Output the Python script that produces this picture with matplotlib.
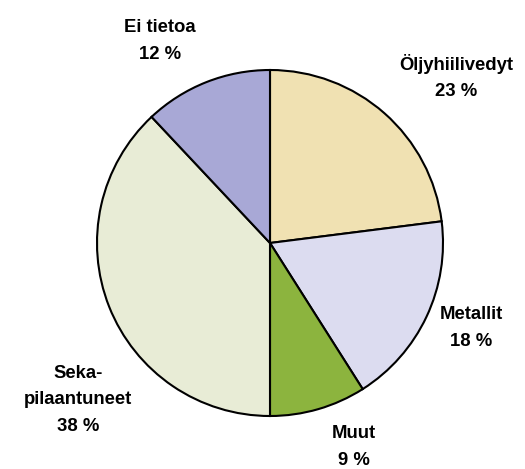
import matplotlib
matplotlib.use("Agg")
import matplotlib.pyplot as plt

categories = ["Öljyhiilivedyt", "Metallit", "Muut", "Seka-\npilaantuneet", "Ei tietoa"]
values = [23, 18, 9, 38, 12]
colors = ["#F0E1B2", "#DCDCF0", "#8CB43E", "#E8ECD6", "#A8A8D6"]

W, H = 525, 469
fig = plt.figure(figsize=(W / 100, H / 100), dpi=100)
ax = fig.add_axes([0, 0, 1, 1])
ax.set_xlim(0, W)
ax.set_ylim(0, H)
ax.set_aspect("equal")
ax.axis("off")

ax.pie(values, colors=colors, startangle=90, counterclock=False,
       center=(270, H - 243), radius=173,
       wedgeprops=dict(edgecolor="black", linewidth=1.5))
ax.set_xlim(0, W)
ax.set_ylim(0, H)

# label anchor positions (pixel coords from top-left): centre of label block
label_pos = [(456, 77), (471, 328), (354, 447), (78, 400), (160, 41)]
for cat, v, (x, y) in zip(categories, values, label_pos):
    ax.text(x, H - y, f"{cat}\n{v} %", ha="center", va="center",
            fontsize=13.3, fontweight="bold", family="Liberation Sans",
            linespacing=1.7, color="black")

fig.savefig("out.png", dpi=100)
